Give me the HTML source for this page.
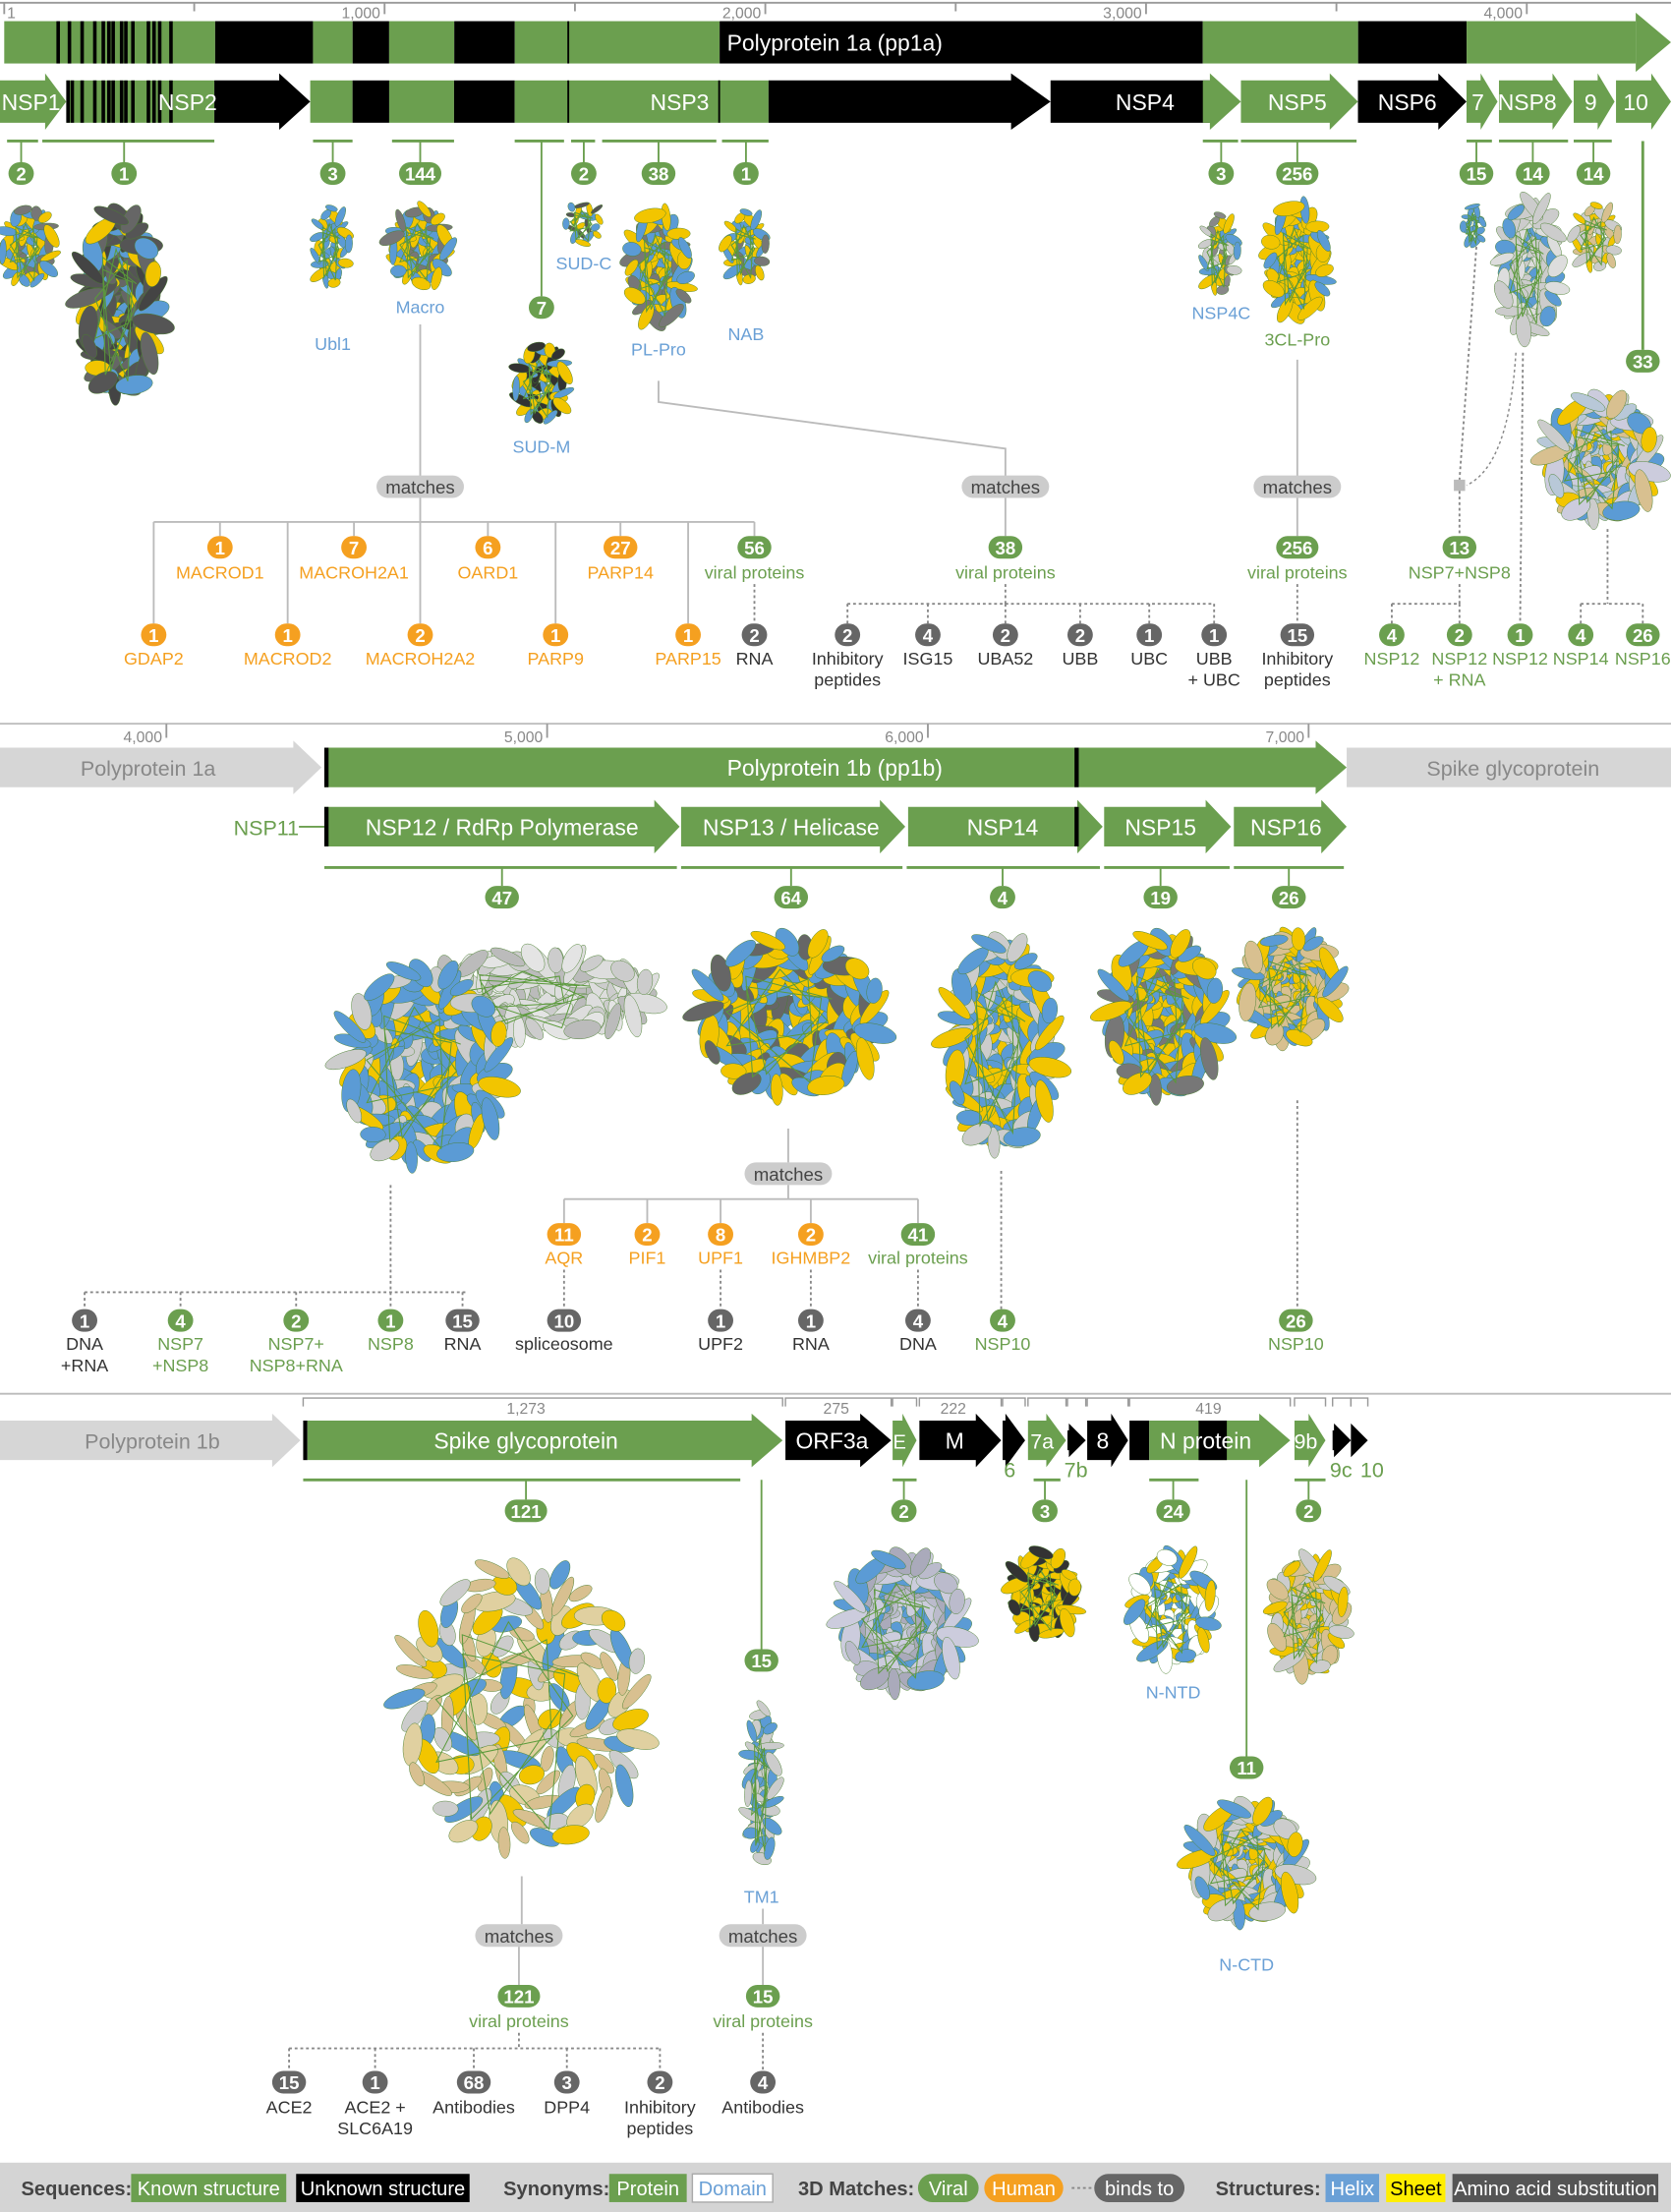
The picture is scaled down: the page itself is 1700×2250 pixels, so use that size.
<!DOCTYPE html>
<html><head><meta charset="utf-8"><style>
html,body{margin:0;padding:0;background:#fff}
svg{display:block}
text{font-family:"Liberation Sans Narrow","Liberation Sans",sans-serif}
</style></head><body>
<svg id="c" width="1700" height="2250" viewBox="0 0 1185 1568" preserveAspectRatio="none" xmlns="http://www.w3.org/2000/svg"></svg>
<script>
// ---- data ----
const pp1aSegKnown=[[1,555,1],[555,812,0],[812,916,1],[916,1012,0],[1012,1183,1],[1183,1342,0],[1342,1880,1],[1880,3149,0],[3149,3557,1],[3557,3842,0],[3842,4405,1]];
const axis1Ticks=[1,1000,2000,3000,4000];
const axis1Labels=["1","1,000","2,000","3,000","4,000"];
const axis2Ticks=[4000,5000,6000,7000];
const axis2Labels=["4,000","5,000","6,000","7,000"];
const G="#6b9f4f",O="#f5a020",K="#666",BL="#6aa0d6";
const S=document.getElementById('c');
const NS="http://www.w3.org/2000/svg";
function xA(r){return 3+(r-1)*0.27;}
function xB(r){return 118+(r-4000)*0.27;}
function mk(tag,attrs,name){const el=document.createElementNS(NS,tag);for(const k in attrs)el.setAttribute(k,attrs[k]);


S.appendChild(el);return el;}
function rect(x,y,w,h,f,name){return mk('rect',{x:x,y:y,width:w,height:h,fill:f},name);}
function line(x1,y1,x2,y2,c,name,dash,w){return mk('line',{x1:x1,y1:y1,x2:x2,y2:y2,stroke:c,'stroke-width':w||1.3,'stroke-dasharray':dash||'none'},name);}
function txt(x,y,s,f,size,name,anchor,weight){const t=mk('text',{x:x,y:y,fill:f,'font-size':size||13,'text-anchor':anchor||'middle','font-weight':weight||'normal'},name);t.textContent=s;return t;}
function arrow(x1,x2,y,h,f,name,head){head=head===undefined?20:head;return mk('polygon',{points:`${x1},${y} ${x2-head},${y} ${x2-head},${y-5} ${x2},${y+h/2} ${x2-head},${y+h+5} ${x2-head},${y+h} ${x1},${y+h}`,fill:f},name);}
function badge(x,y,s,c,name){const w=s.length>2?30:(s.length>1?24:18);mk('rect',{x:x-w/2,y:y-8,width:w,height:16,rx:8,fill:c},name);txt(x,y+5,s,'#fff',13,name+'-value','middle','bold');}
function lab(x,y,s,c,name){txt(x,y,s,c,12.5,name);}
function matches(x,y,name){mk('rect',{x:x-31,y:y-8,width:62,height:16,rx:8,fill:'#ccc'},name);txt(x,y+5,'matches','#444',13,name+'-text');}
function mol(cx,cy,w,h,name,mix){const g=mk('g',{},name);const cols=mix||['#5b9bd5','#f2c500','#5b9bd5','#777','#f2c500'];
const n=Math.max(18,Math.min(140,Math.round(w*h/45)));
const sz=Math.max(2.2,Math.min(6,Math.sqrt(w*h)/14));
for(let i=0;i<n;i++){const a=i*2.39996,r=Math.sqrt((i+0.5)/n);
const x=cx+Math.cos(a)*w/2*r*0.92,y=cy+Math.sin(a)*h/2*r*0.92;
const e=document.createElementNS(NS,'ellipse');
e.setAttribute('cx',x.toFixed(1));e.setAttribute('cy',y.toFixed(1));
e.setAttribute('rx',(sz*(0.7+(i%3)*0.2)).toFixed(1));e.setAttribute('ry',(sz*(1.5+(i%4)*0.35)).toFixed(1));
e.setAttribute('transform',`rotate(${(i*53)%180} ${x.toFixed(1)} ${y.toFixed(1)})`);
e.setAttribute('fill',cols[(i*7)%cols.length]);e.setAttribute('stroke','#4a7f2f');e.setAttribute('stroke-width','0.3');g.appendChild(e);}
const p=document.createElementNS(NS,'path');let d='';for(let i=0;i<14;i++){const a=i*1.9,r=0.3+0.6*((i*5)%7)/7;d+=(i?'L':'M')+(cx+Math.cos(a)*w/2*r).toFixed(1)+','+(cy+Math.sin(a)*h/2*r).toFixed(1);}
p.setAttribute('d',d);p.setAttribute('fill','none');p.setAttribute('stroke','#5a9a3a');p.setAttribute('stroke-width','0.7');g.appendChild(p);
return g;}

// ===== Section 1 =====
line(0,2,1185,2,'#999','axis-top');
axis1Ticks.forEach((r,i)=>{line(xA(r),2,xA(r),10,'#999','axis-top-tick');txt(xA(r)-3,13,axis1Labels[i],'#888',11,'axis-top-label',i==0?'start':'end');if(i==0)S.lastChild.setAttribute('x',xA(r)+2);});
[500,1500,2500,3500].forEach(r=>line(xA(r),2,xA(r),8,'#999','axis-top-minor'));
pp1aSegKnown.forEach(s=>{const x1=xA(s[0]),x2=Math.min(xA(s[1]),1160);rect(x1,15,x2-x1,30,s[2]?G:'#000',s[2]?'known-segment':'unknown-segment');});
mk('polygon',{points:'1160,9 1185,30 1160,51',fill:G},'pp1a-arrowhead');
[40,48,57,66,72,76,79,85,88,93,104,108,112,120].forEach(x=>rect(x,15,2.5,30,'#000','pp1a-stripe'));
line(403,15,403,45,'#000','pp1a-divider');
txt(592,36,'Polyprotein 1a (pp1a)','#fff',16,'pp1a-label');
// NSP row
arrow(0,47,57,30,G,'nsp1-arrow',15);
rect(47,57,105,30,G,'nsp2-known');
[47,50,57,66,72,76,79,85,88,93,104,108,112,120].forEach(x=>rect(x,57,2.5,30,'#000','nsp2-stripe'));
arrow(152,220,57,30,'#000','nsp2-arrow',22);
[[220,250,G],[250,276,'#000'],[276,322,G],[322,365,'#000'],[365,545,G]].forEach(s=>rect(s[0],57,s[1]-s[0],30,s[2],'nsp3-segment'));
line(403,57,403,87,'#000','nsp3-divider');line(510,57,510,87,'#000','nsp3-divider2');
arrow(545,745,57,30,'#000','nsp3-arrow',28);
arrow(745,858,57,30,'#000','nsp4-arrow',0);arrow(853,880,57,30,G,'nsp4-tail',22);
arrow(880,963,57,30,G,'nsp5-arrow',20);arrow(963,1040,57,30,'#000','nsp6-arrow',20);
arrow(1040,1062,57,30,G,'nsp7-arrow',12);arrow(1063,1115,57,30,G,'nsp8-arrow',14);arrow(1116,1145,57,30,G,'nsp9-arrow',12);arrow(1146,1185,57,30,G,'nsp10-arrow',14);
[['NSP1',22],['NSP2',133],['NSP3',482],['NSP4',812],['NSP5',920],['NSP6',998],['7',1048],['NSP8',1083],['9',1128],['10',1160]].forEach(a=>txt(a[1],78,a[0],'#fff',16,'label-'+a[0].toLowerCase()));
// brackets + badges
[[5,27,15,'2'],[30,152,88,'1'],[222,250,236,'3'],[278,322,298,'144'],[405,422,414,'2'],[427,508,467,'38'],[512,545,529,'1'],[853,878,866,'3'],[880,962,920,'256'],[1040,1058,1047,'15'],[1063,1112,1087,'14'],[1116,1143,1130,'14']].forEach(b=>{line(b[0],100,b[1],100,G,'bracket',null,2);line(b[2],100,b[2],115,G,'bracket-stem');badge(b[2],123,b[3],G,'count-badge');});
line(365,100,400,100,G,'bracket-sudm',null,2);line(384,100,384,210,G,'sudm-stem');badge(384,218,'7',G,'sudm-badge');
line(1165,100,1165,248,G,'nsp10-stem',null,2);badge(1165,256,'33',G,'nsp10-badge');
// molecules
mol(20,175,40,60,'nsp1-structure');mol(85,215,55,140,'nsp2-structure',['#555','#666','#5b9bd5','#444','#f2c500','#555']);
mol(235,175,28,60,'ubl1-structure',['#5b9bd5','#5b9bd5','#f2c500']);mol(298,175,45,60,'macro-structure');
mol(414,158,30,32,'sudc-structure',['#555','#f2c500','#5b9bd5']);mol(467,190,45,85,'plpro-structure');mol(529,175,32,55,'nab-structure');
mol(384,272,40,60,'sudm-structure',['#5b9bd5','#333','#f2c500']);mol(865,180,28,60,'nsp4c-structure',['#888','#f2c500','#5b9bd5','#ccc']);
mol(920,185,45,85,'3clpro-structure',['#5b9bd5','#f2c500','#f2c500']);mol(1045,160,16,32,'nsp7-structure',['#5b9bd5']);
mol(1085,190,45,100,'nsp8-structure',['#5b9bd5','#ccc','#ccc','#ddd']);mol(1132,168,35,50,'nsp9-structure',['#f2c500','#d8c090','#ccc']);
mol(1135,325,80,90,'nsp10-structure',['#b8c8d8','#d8c090','#5b9bd5','#ccc','#f2c500','#ccd']);
[[236,248,'Ubl1'],[298,222,'Macro'],[414,191,'SUD-C'],[467,252,'PL-Pro'],[529,241,'NAB'],[384,321,'SUD-M'],[866,226,'NSP4C']].forEach(l=>lab(l[0],l[1],l[2],BL,'domain-'+l[2].toLowerCase()));
lab(920,245,'3CL-Pro',G,'domain-3clpro');
// macro tree
line(298,230,298,338,'#bbb','macro-link');matches(298,345,'macro-matches');
line(298,353,298,370,'#bbb','macro-link2');line(109,370,535,370,'#bbb','macro-hline');
const macroTop=[[156,'1','MACROD1',O],[251,'7','MACROH2A1',O],[346,'6','OARD1',O],[440,'27','PARP14',O],[535,'56','viral proteins',G]];
const macroBot=[[109,'1','GDAP2'],[204,'1','MACROD2'],[298,'2','MACROH2A2'],[394,'1','PARP9'],[488,'1','PARP15']];
macroTop.forEach(m=>{line(m[0],370,m[0],380,'#bbb','tree-drop');badge(m[0],388,m[1],m[3],'match-badge');lab(m[0],410,m[2],m[3],'match-label');});
macroBot.forEach(m=>{line(m[0],370,m[0],442,'#bbb','tree-drop');badge(m[0],450,m[1],O,'match-badge');lab(m[0],471,m[2],O,'match-label');});
line(535,414,535,442,'#888','binds-line','2,2');badge(535,450,'2',K,'rna-badge');lab(535,471,'RNA','#333','rna-label');
// plpro tree
mk('polyline',{points:'467,270 467,285 713,318 713,338',fill:'none',stroke:'#bbb','stroke-width':1.3},'plpro-link');
matches(713,345,'plpro-matches');line(713,353,713,380,'#bbb','plpro-link2');badge(713,388,'38',G,'plpro-viral');lab(713,410,'viral proteins',G,'plpro-viral-label');
line(713,414,713,428,'#888','binds','2,2');line(601,428,861,428,'#888','binds-h','2,2');
[[601,'2','Inhibitory','peptides'],[658,'4','ISG15'],[713,'2','UBA52'],[766,'2','UBB'],[815,'1','UBC'],[861,'1','UBB','+ UBC']].forEach(m=>{line(m[0],428,m[0],442,'#888','binds','2,2');badge(m[0],450,m[1],K,'binder-badge');lab(m[0],471,m[2],'#333','binder-label');if(m[3])lab(m[0],486,m[3],'#333','binder-label2');});
// 3cl tree
line(920,255,920,338,'#bbb','3cl-link');matches(920,345,'3cl-matches');line(920,353,920,380,'#bbb','3cl-link2');
badge(920,388,'256',G,'3cl-viral');lab(920,410,'viral proteins',G,'3cl-viral-label');line(920,414,920,442,'#888','binds','2,2');
badge(920,450,'15',K,'3cl-inhib');lab(920,471,'Inhibitory',"#333",'l');lab(920,486,'peptides','#333','l2');
// nsp7/8
line(1047,175,1035,340,'#888','binds','2,2');mk('path',{d:'M1075,250 Q1070,330 1040,344',fill:'none',stroke:'#888','stroke-dasharray':'2,2'},'binds-curve');
rect(1031,340,8,8,'#bbb','complex-node');line(1035,348,1035,380,'#888','binds','2,2');
badge(1035,388,'13',G,'nsp78-badge');lab(1035,410,'NSP7+NSP8',G,'nsp78-label');
line(1035,414,1035,428,'#888','binds','2,2');line(987,428,1035,428,'#888','binds','2,2');
line(987,428,987,442,'#888','binds','2,2');line(1035,428,1035,442,'#888','binds','2,2');
badge(987,450,'4',G,'b');lab(987,471,'NSP12',G,'l');badge(1035,450,'2',G,'b');lab(1035,471,'NSP12',G,'l');lab(1035,486,'+ RNA',G,'l');
line(1080,250,1078,442,'#888','binds','2,2');badge(1078,450,'1',G,'b');lab(1078,471,'NSP12',G,'l');
line(1140,375,1140,428,'#888','binds','2,2');line(1121,428,1165,428,'#888','binds','2,2');line(1121,428,1121,442,'#888','binds','2,2');line(1165,428,1165,442,'#888','binds','2,2');
badge(1121,450,'4',G,'b');lab(1121,471,'NSP14',G,'l');badge(1165,450,'26',G,'b');lab(1165,471,'NSP16',G,'l');

// ===== Section 2 =====
line(0,513,1185,513,'#bbb','section-divider');
axis2Ticks.forEach((r,i)=>{line(xB(r),513,xB(r),523,'#999','axis2-tick');txt(xB(r)-3,526,axis2Labels[i],'#888',11,'axis2-label','end');});
arrow(0,228,530,28,'#d6d6d6','pp1a-ghost',20);txt(105,550,'Polyprotein 1a','#888',15,'pp1a-ghost-label');
arrow(230,955,530,28,G,'pp1b-arrow',22);rect(230,530,3,28,'#000','pp1b-start');rect(762,530,3,28,'#000','pp1b-mark');
txt(592,550,'Polyprotein 1b (pp1b)','#fff',16,'pp1b-label');
mk('rect',{x:955,y:530,width:230,height:28,fill:'#d6d6d6'},'spike-ghost');txt(1073,550,'Spike glycoprotein','#888',15,'spike-ghost-label');
txt(212,592,'NSP11','#6b9f4f',15,'nsp11-label','end');line(212,586,230,586,G,'nsp11-line');
[[230,482,'NSP12 / RdRp Polymerase',356],[483,642,'NSP13 / Helicase',561],[644,782,'NSP14',711],[783,873,'NSP15',823],[875,955,'NSP16',912]].forEach(n=>{arrow(n[0],n[1],572,28,G,'nsp-arrow',18);txt(n[3],592,n[2],'#fff',16,'nsp-label');});
rect(230,572,3,28,'#000','nsp12-start');rect(762,572,3,28,'#000','nsp14-mark');
[[230,480,356,'47'],[483,640,561,'64'],[643,780,711,'4'],[783,872,823,'19'],[875,953,914,'26']].forEach(b=>{line(b[0],615,b[1],615,G,'bracket',null,2);line(b[2],615,b[2],628,G,'stem');badge(b[2],636,b[3],G,'count-badge');});
mol(380,705,180,60,'dna-structure',['#ccc','#ddd','#bbb','#e4e4e4']);mol(300,755,125,150,'rdrp-structure',['#5b9bd5','#5b9bd5','#f2c500','#5b9bd5','#ccc']);
mol(560,720,140,120,'helicase-structure',['#5b9bd5','#f2c500','#5b9bd5','#f2c500','#666']);mol(710,740,80,160,'nsp14-structure',['#5b9bd5','#f2c500','#5b9bd5','#ccc']);mol(825,720,85,120,'nsp15-structure');mol(915,700,70,80,'nsp16-structure',['#5b9bd5','#f2c500','#d8c090']);
line(277,840,277,916,'#888','binds','2,2');line(60,916,330,916,'#888','binds','2,2');
[[60,'1','DNA','+RNA',K,'#333'],[128,'4','NSP7','+NSP8',G,G],[210,'2','NSP7+','NSP8+RNA',G,G],[277,'1','NSP8',null,G,G],[328,'15','RNA',null,K,'#333']].forEach(m=>{line(m[0],916,m[0],928,'#888','binds','2,2');badge(m[0],936,m[1],m[4],'binder-badge');lab(m[0],957,m[2],m[5],'binder-label');if(m[3])lab(m[0],972,m[3],m[5],'binder-label2');});
line(559,800,559,824,'#bbb','hel-link');matches(559,832,'helicase-matches');line(559,840,559,850,'#bbb','hel-link2');line(400,850,651,850,'#bbb','hel-h');
[[400,'11','AQR',O],[459,'2','PIF1',O],[511,'8','UPF1',O],[575,'2','IGHMBP2',O],[651,'41','viral proteins',G]].forEach(m=>{line(m[0],850,m[0],867,'#bbb','drop');badge(m[0],875,m[1],m[3],'match-badge');lab(m[0],896,m[2],m[3],'match-label');});
[[400,'10','spliceosome'],[511,'1','UPF2'],[575,'1','RNA'],[651,'4','DNA']].forEach(m=>{line(m[0],900,m[0],928,'#888','binds','2,2');badge(m[0],936,m[1],K,'binder-badge');lab(m[0],957,m[2],'#333','binder-label');});
line(710,830,710,928,'#888','binds','2,2');badge(711,936,'4',G,'b');lab(711,957,'NSP10',G,'l');
line(920,780,920,928,'#888','binds','2,2');badge(919,936,'26',G,'b');lab(919,957,'NSP10',G,'l');

// ===== Section 3 =====
line(0,988,1185,988,'#bbb','section-divider2');
mk('polyline',{points:'215,997 215,991 555,991 555,997',fill:'none',stroke:'#999'},'spike-len');txt(373,1002,'1,273','#888',11,'len');
[[557,632,593,'275'],[633,650],[652,710,676,'222'],[711,727],[729,756],[757,770],[771,800],[801,915,857,'419'],[918,940],[945,958],[958,970]].forEach(s=>{mk('polyline',{points:`${s[0]},997 ${s[0]},991 ${s[1]},991 ${s[1]},997`,fill:'none',stroke:'#999'},'gene-len');if(s[3])txt(s[2],1002,s[3],'#888',11,'len');});
arrow(0,213,1007,28,'#d6d6d6','pp1b-ghost',20);txt(108,1027,'Polyprotein 1b','#888',15,'pp1b-ghost-label');
rect(215,1007,3,28,'#000','spike-start');arrow(218,555,1007,28,G,'spike-arrow',22);txt(373,1027,'Spike glycoprotein','#fff',16,'spike-label');
arrow(557,632,1007,28,'#000','orf3a-arrow',22);txt(590,1027,'ORF3a','#fff',16,'orf3a-label');
arrow(633,650,1007,28,G,'e-arrow',10);txt(638,1027,'E','#fff',14,'e-label');
arrow(652,710,1007,28,'#000','m-arrow',18);txt(677,1027,'M','#fff',16,'m-label');
arrow(711,727,1007,28,'#000','orf6-arrow',14);arrow(729,756,1007,28,G,'orf7a-arrow',14);txt(739,1027,'7a','#fff',15,'orf7a-label');
arrow(757,770,1014,14,'#000','orf7b-arrow',12);arrow(771,800,1007,28,'#000','orf8-arrow',12);txt(782,1027,'8','#fff',16,'orf8-label');
rect(801,1007,14,28,'#000','n-start');arrow(815,915,1007,28,G,'n-arrow',22);rect(850,1007,20,28,'#000','n-mark');txt(855,1027,'N protein','#fff',16,'n-label');
arrow(918,940,1007,28,G,'orf9b-arrow',12);txt(926,1027,'9b','#fff',15,'orf9b-label');
arrow(945,958,1014,14,'#000','orf9c-arrow',12);arrow(958,970,1014,14,'#000','orf10-arrow',12);
txt(716,1047,'6',G,15,'orf6-label');txt(763,1047,'7b',G,15,'orf7b-label');txt(951,1047,'9c',G,15,'orf9c-label');txt(973,1047,'10',G,15,'orf10-label');
[[215,525,373,'121'],[633,650,641,'2'],[733,752,741,'3'],[815,850,832,'24'],[918,940,928,'2']].forEach(b=>{line(b[0],1049,b[1],1049,G,'bracket',null,2);line(b[2],1049,b[2],1063,G,'stem');badge(b[2],1071,b[3],G,'count-badge');});
line(540,1049,540,1169,G,'tm1-stem');badge(540,1177,'15',G,'tm1-badge');line(884,1049,884,1245,G,'nctd-stem');badge(884,1253,'11',G,'nctd-badge');
mol(370,1210,190,220,'spike-structure',['#d8c090','#5b9bd5','#f2c500','#d8c090','#ccc','#e0d0a0']);mol(540,1265,22,120,'tm1-structure',['#5b9bd5','#ccc']);
mol(640,1150,90,100,'orf3a-structure',['#bbc','#ccd','#5b9bd5','#aab']);mol(740,1130,50,65,'orf7a-structure',['#f2c500','#333','#f2c500']);
mol(832,1140,60,80,'nntd-structure',['#f2c500','#5b9bd5','#fff']);mol(928,1145,55,85,'orf9b-structure',['#f2c500','#ccc','#d8c090']);mol(884,1320,80,85,'nctd-structure',['#5b9bd5','#f2c500','#ccc']);
lab(540,1349,'TM1',BL,'domain-tm1');lab(832,1204,'N-NTD',BL,'domain-nntd');lab(884,1397,'N-CTD',BL,'domain-nctd');
line(370,1330,370,1364,'#bbb','spike-link');matches(368,1372,'spike-matches');line(368,1380,368,1407,'#bbb','l');badge(368,1415,'121',G,'spike-viral');lab(368,1437,'viral proteins',G,'l');
line(368,1441,368,1452,'#888','binds','2,2');line(205,1452,468,1452,'#888','binds','2,2');
[[205,'15','ACE2'],[266,'1','ACE2 +','SLC6A19'],[336,'68','Antibodies'],[402,'3','DPP4'],[468,'2','Inhibitory','peptides']].forEach(m=>{line(m[0],1452,m[0],1468,'#888','binds','2,2');badge(m[0],1476,m[1],K,'binder-badge');lab(m[0],1498,m[2],'#333','binder-label');if(m[3])lab(m[0],1513,m[3],'#333','binder-label2');});
line(541,1353,541,1364,'#bbb','l');matches(541,1372,'tm1-matches');line(541,1380,541,1407,'#bbb','l');badge(541,1415,'15',G,'tm1-viral');lab(541,1437,'viral proteins',G,'l');
line(541,1441,541,1468,'#888','binds','2,2');badge(541,1476,'4',K,'binder-badge');lab(541,1498,'Antibodies','#333','binder-label');

// ===== Legend =====
rect(0,1533,1185,35,'#d4d4d4','legend');
function lb(x,w,f,s,tc,name,rx,stroke){mk('rect',{x:x,y:1541,width:w,height:20,rx:rx||0,fill:f,stroke:stroke||'none'},name);txt(x+w/2,1556,s,tc,14,name+'-text');}
txt(15,1556,'Sequences:','#444',14,'legend-sequences','start','bold');lb(93,110,G,'Known structure','#fff','legend-known');lb(210,123,'#000','Unknown structure','#fff','legend-unknown');
txt(357,1556,'Synonyms:','#444',14,'legend-synonyms','start','bold');lb(432,55,G,'Protein','#fff','legend-protein');lb(491,57,'#fff','Domain',BL,'legend-domain',0,'#aaa');
txt(566,1556,'3D Matches:','#444',14,'legend-matches','start','bold');lb(651,43,G,'Viral','#fff','legend-viral',10);lb(698,56,O,'Human','#fff','legend-human',10);
line(760,1551,775,1551,'#888','legend-binds-dots','2,2');lb(776,64,K,'binds to','#fff','legend-binds',10);
txt(862,1556,'Structures:','#444',14,'legend-structures','start','bold');lb(940,38,BL,'Helix','#fff','legend-helix');lb(983,42,'#ffee00','Sheet','#000','legend-sheet');lb(1030,146,'#555','Amino acid substitution','#fff','legend-substitution');
</script>
</body></html>
